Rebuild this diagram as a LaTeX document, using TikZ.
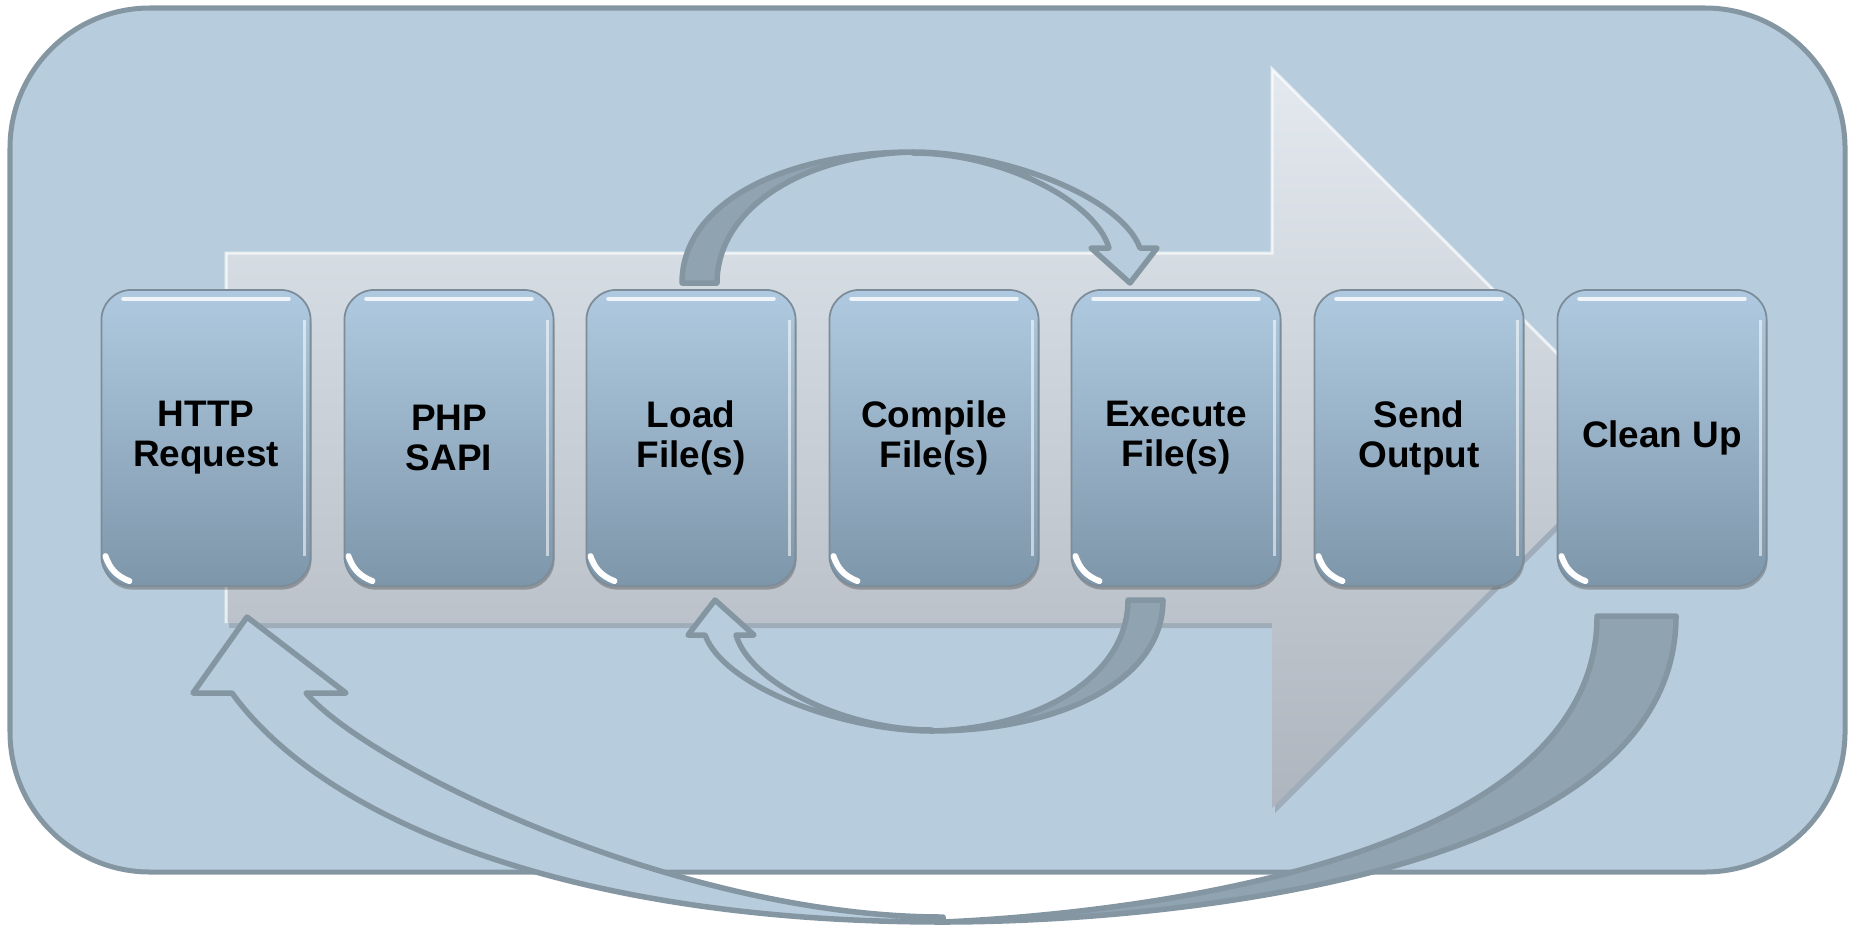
\documentclass[tikz,border=0pt]{standalone}
\usepackage{fontspec}
\setmainfont{Liberation Sans}
\usepackage{tikz}
\usetikzlibrary{shadows}

\definecolor{panelfill}{HTML}{B7CDDD}
\definecolor{panelline}{HTML}{8596A3}
\definecolor{stagetop}{HTML}{AFCAE0}
\definecolor{stagebot}{HTML}{7E96AA}
\definecolor{stageline}{HTML}{7C8C98}
\definecolor{flowtop}{HTML}{E3E9EF}
\definecolor{flowbot}{HTML}{AEB5BE}
\definecolor{bandfill}{HTML}{8FA3B1}

\begin{document}
\begin{tikzpicture}[x=0.01cm, y=-0.01cm,
    stage/.style={draw=stageline, line width=0.5pt, rounded corners=0.3cm,
      top color=stagetop, bottom color=stagebot,
      minimum width=2.09cm, minimum height=2.96cm, align=center,
      font=\fontsize{10.5}{11.4}\selectfont\bfseries,
      drop shadow={shadow xshift=0.01cm, shadow yshift=-0.035cm, opacity=0.4, fill=black!70},
      path picture={
        \draw[white, line width=0.045cm, opacity=0.8, line cap=round]
          ([shift={(0.22cm,-0.09cm)}]path picture bounding box.north west) --
          ([shift={(-0.22cm,-0.09cm)}]path picture bounding box.north east);
        \draw[white, line width=0.03cm, opacity=0.55]
          ([shift={(-0.06cm,-0.3cm)}]path picture bounding box.north east) --
          ([shift={(-0.06cm,0.3cm)}]path picture bounding box.south east);
        \draw[white, line width=0.06cm, line cap=round]
          ([shift={(0.04cm,0.3cm)}]path picture bounding box.south west) to[bend right=25]
          ([shift={(0.28cm,0.05cm)}]path picture bounding box.south west);
      }},
    band/.style={draw=panelline, fill=bandfill, line width=0.055cm, line join=round},
    ribbon/.style={draw=panelline, fill=panelfill, line width=0.055cm, line join=round}]

  \useasboundingbox (0,0) rectangle (1849,924);

  % Background panel
  \draw[draw=panelline, fill=panelfill, line width=0.05cm, rounded corners=1.4cm]
    (10,8) rectangle (1845,872);

  % Process arrow
  \fill[black!60, opacity=0.3] (229,258) -- (1275,258) -- (1275,74) -- (1645,443)
    -- (1275,813) -- (1275,628) -- (229,628) -- cycle;
  \shade[top color=flowtop, bottom color=flowbot] (226,253) -- (1272,253) -- (1272,69)
    -- (1642,438) -- (1272,808) -- (1272,623) -- (226,623) -- cycle;
  \draw[white, opacity=0.7, line width=0.03cm] (226,623) -- (226,253) -- (1272,253)
    -- (1272,69) -- (1642,438);

  % Nodes
  \node[stage] (http) at (206,438) {HTTP\\Request};
  \node[stage] (sapi) at (449,438) {PHP\\SAPI};
  \node[stage] (load) at (691,438) {Load\\File(s)};
  \node[stage] (compile) at (934,438) {Compile\\File(s)};
  \node[stage] (execute) at (1176,438) {Execute\\File(s)};
  \node[stage] (send) at (1419,438) {Send\\Output};
  \node[stage] (cleanup) at (1662,438) {Clean Up};

  % Load -> Execute
  \draw[band] (682,283) .. controls (682,200) and (790,152) .. (913,152)
    .. controls (800,155) and (717,210) .. (717,283) -- cycle;
  \draw[ribbon] (913,152) .. controls (1000,152) and (1120,195) .. (1140,248)
    -- (1157,248) -- (1130,283) -- (1091,248) -- (1109,248)
    .. controls (1095,200) and (1000,153) .. (913,153) -- cycle;

  % Execute -> Load
  \draw[band] (1163,600) .. controls (1163,683) and (1055,731) .. (932,731)
    .. controls (1045,728) and (1128,673) .. (1128,600) -- cycle;
  \draw[ribbon] (932,731) .. controls (845,731) and (725,688) .. (705,635)
    -- (688,635) -- (715,600) -- (754,635) -- (736,635)
    .. controls (750,683) and (845,730) .. (932,730) -- cycle;

  % Clean Up -> HTTP Request
  \draw[band] (1676,616) .. controls (1676,880) and (1150,922) .. (943,922)
    .. controls (1060,917) and (1597,880) .. (1597,616) -- cycle;
  \draw[ribbon] (943,922) .. controls (560,922) and (320,815) .. (232,693)
    -- (193,693) -- (247,617) -- (346,693) -- (306,693)
    .. controls (370,767) and (680,917) .. (943,917) -- cycle;
\end{tikzpicture}
\end{document}
